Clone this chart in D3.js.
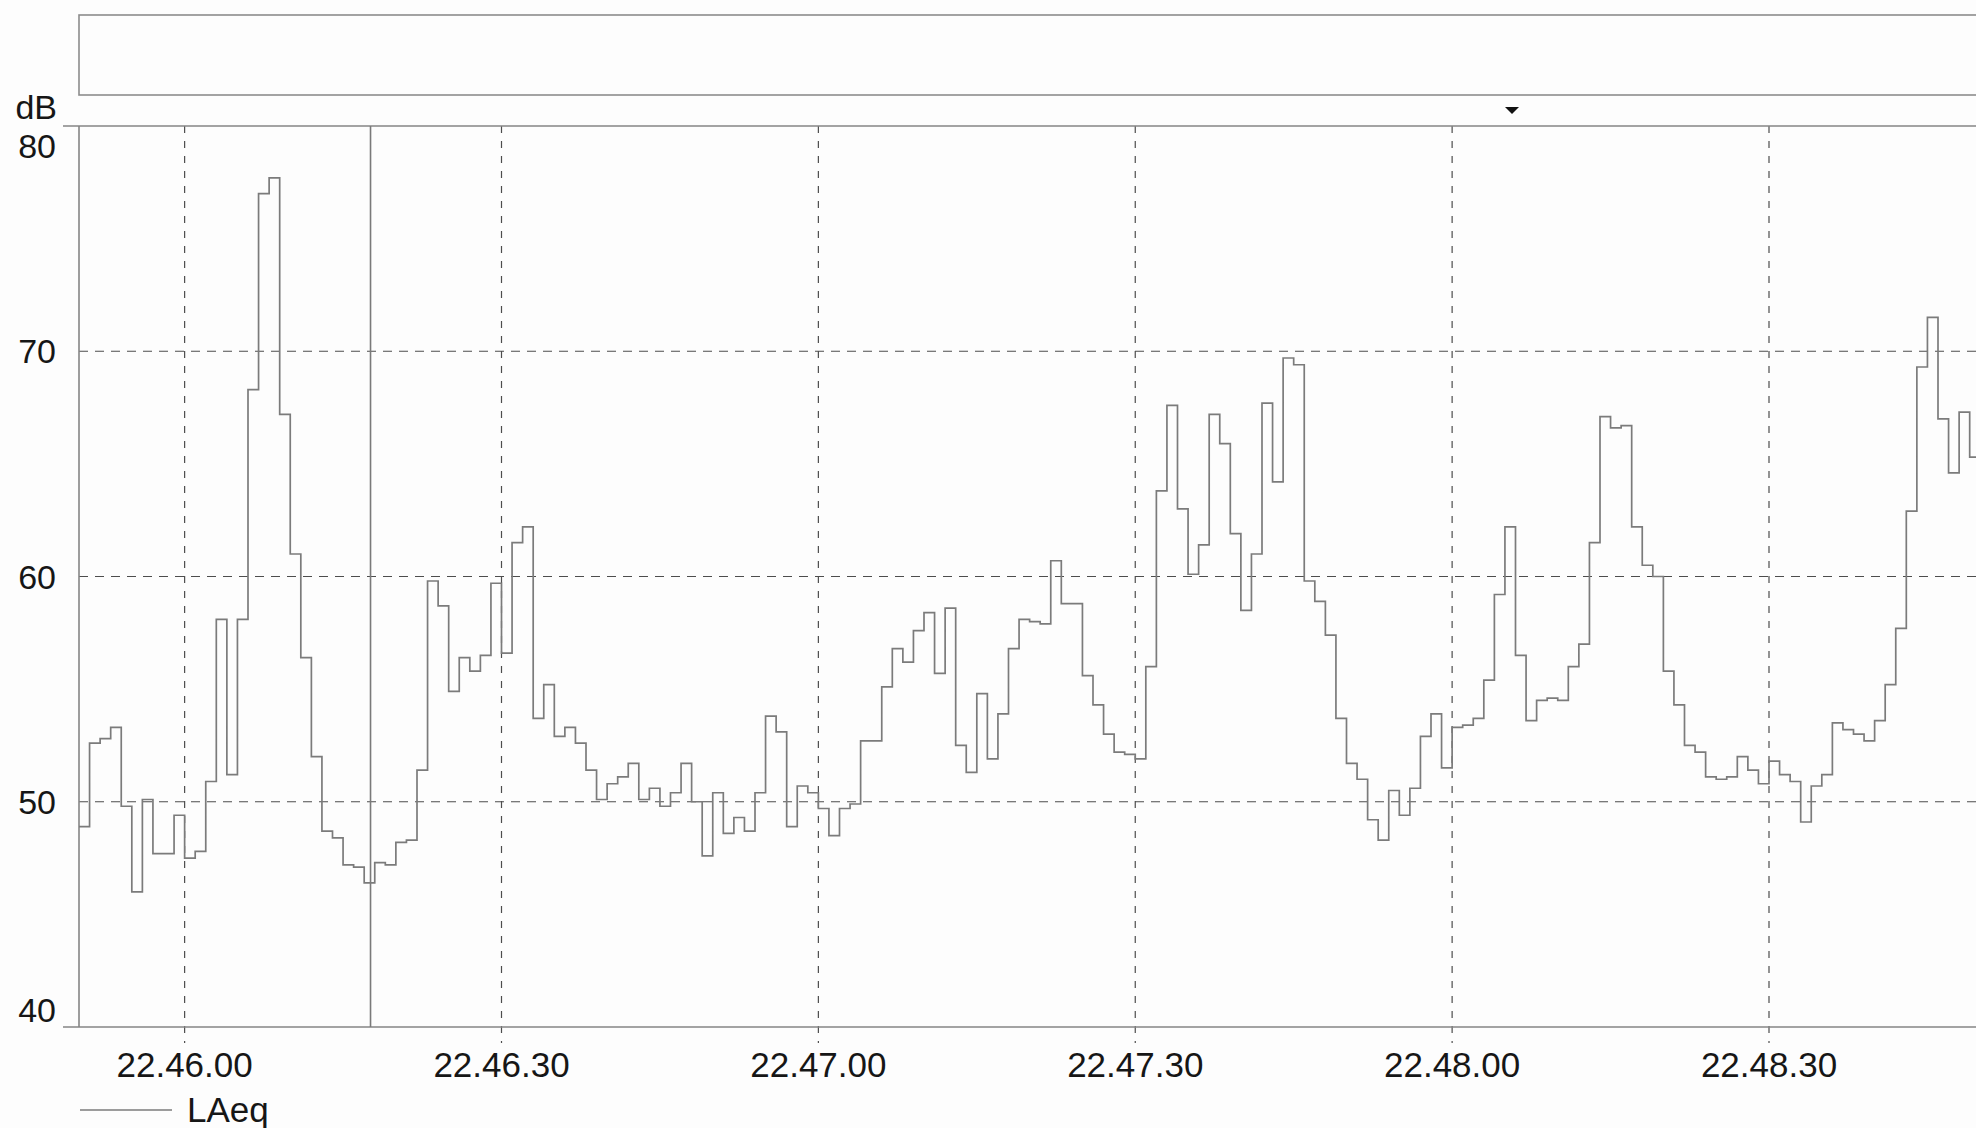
<!DOCTYPE html>
<html>
<head>
<meta charset="utf-8">
<script src="https://cdn.jsdelivr.net/npm/d3@7"></script>
<style>
  html, body { margin: 0; padding: 0; background: #fdfdfd; }
  svg { display: block; font-family: "Liberation Sans", Arial, sans-serif; }
</style>
</head>
<body>
<svg id="chart" width="1976" height="1128"></svg>
<script>
// LAeq, 1-second values starting at 22:45:50
const seriesName = "LAeq";
const startTime = "22:45:50";
const laeq = [
  48.9, 52.6, 52.8, 53.3, 49.8, 46.0, 50.1, 47.7, 47.7, 49.4,
  47.5, 47.8, 50.9, 58.1, 51.2, 58.1, 68.3, 77.0, 77.7, 67.2,
  61.0, 56.4, 52.0, 48.7, 48.4, 47.2, 47.1, 46.4, 47.3, 47.2,
  48.2, 48.3, 51.4, 59.8, 58.7, 54.9, 56.4, 55.8, 56.5, 59.7,
  56.6, 61.5, 62.2, 53.7, 55.2, 52.9, 53.3, 52.6, 51.4, 50.1,
  50.8, 51.1, 51.7, 50.1, 50.6, 49.8, 50.4, 51.7, 50.0, 47.6,
  50.4, 48.6, 49.3, 48.7, 50.4, 53.8, 53.1, 48.9, 50.7, 50.4,
  49.7, 48.5, 49.7, 49.9, 52.7, 52.7, 55.1, 56.8, 56.2, 57.6,
  58.4, 55.7, 58.6, 52.5, 51.3, 54.8, 51.9, 53.9, 56.8, 58.1,
  58.0, 57.9, 60.7, 58.8, 58.8, 55.6, 54.3, 53.0, 52.2, 52.1,
  51.9, 56.0, 63.8, 67.6, 63.0, 60.1, 61.4, 67.2, 65.9, 61.9,
  58.5, 61.0, 67.7, 64.2, 69.7, 69.4, 59.8, 58.9, 57.4, 53.7,
  51.7, 51.0, 49.2, 48.3, 50.5, 49.4, 50.6, 52.9, 53.9, 51.5,
  53.3, 53.4, 53.7, 55.4, 59.2, 62.2, 56.5, 53.6, 54.5, 54.6,
  54.5, 56.0, 57.0, 61.5, 67.1, 66.6, 66.7, 62.2, 60.5, 60.0,
  55.8, 54.3, 52.5, 52.2, 51.1, 51.0, 51.1, 52.0, 51.4, 50.8,
  51.8, 51.2, 50.9, 49.1, 50.7, 51.2, 53.5, 53.2, 53.0, 52.7,
  53.6, 55.2, 57.7, 62.9, 69.3, 71.5, 67.0, 64.6, 67.3, 65.3
];
const yTicks = [40, 50, 60, 70, 80];
const xTickTimes = ["22:46:00", "22:46:30", "22:47:00", "22:47:30", "22:48:00", "22:48:30"];
const cursorTime = "22:46:17.600";
const yUnit = "dB";

const W = 1976, H = 1128;
const plot = { left: 79, top: 126, bottom: 1027 };
const pxPerSecond = 10.5625;
const visibleSeconds = 182;

const parse = d3.timeParse("%H:%M:%S");
const parseMs = d3.timeParse("%H:%M:%S.%L");
const fmt = d3.timeFormat("%H.%M.%S");
const t0 = parse(startTime);

const points = laeq.map((v, i) => ({ t: d3.timeSecond.offset(t0, i), v }));
// close the last 1-second interval
points.push({ t: d3.timeSecond.offset(t0, laeq.length), v: laeq[laeq.length - 1] });

const x = d3.scaleTime()
  .domain([t0, d3.timeSecond.offset(t0, visibleSeconds)])
  .range([plot.left, plot.left + visibleSeconds * pxPerSecond]);
const y = d3.scaleLinear().domain([40, 80]).range([plot.bottom, plot.top]);

const svg = d3.select("#chart");
svg.append("rect").attr("width", W).attr("height", H).attr("fill", "#fdfdfd");

svg.append("defs").append("clipPath").attr("id", "plotClip")
  .append("rect")
  .attr("x", plot.left).attr("y", plot.top)
  .attr("width", W - plot.left).attr("height", plot.bottom - plot.top);

// header panel above the graph
svg.append("rect")
  .attr("x", plot.left).attr("y", 15)
  .attr("width", W - plot.left + 20).attr("height", 80)
  .attr("fill", "none").attr("stroke", "#8c8c8c").attr("stroke-width", 1.6);

// dropdown marker
svg.append("path")
  .attr("d", "M1505,107 L1519,107 L1512,114 Z")
  .attr("fill", "#111");

// horizontal grid
const gridColor = "#4d4d4d";
svg.append("g").selectAll("line")
  .data(yTicks.filter(v => v > 40 && v < 80))
  .join("line")
  .attr("x1", plot.left).attr("x2", W)
  .attr("y1", d => y(d)).attr("y2", d => y(d))
  .attr("stroke", gridColor).attr("stroke-width", 1.2)
  .attr("stroke-dasharray", "9,7");

// vertical grid, continued below the axis as tick marks
const xTicks = xTickTimes.map(parse);
svg.append("g").selectAll("line")
  .data(xTicks)
  .join("line")
  .attr("x1", d => x(d)).attr("x2", d => x(d))
  .attr("y1", plot.top).attr("y2", plot.bottom + 16)
  .attr("stroke", gridColor).attr("stroke-width", 1.2)
  .attr("stroke-dasharray", "7,8");

// frame
const frameColor = "#858585";
svg.append("line").attr("x1", 63).attr("x2", W).attr("y1", plot.top).attr("y2", plot.top)
  .attr("stroke", frameColor).attr("stroke-width", 1.6);
svg.append("line").attr("x1", 63).attr("x2", W).attr("y1", plot.bottom).attr("y2", plot.bottom)
  .attr("stroke", frameColor).attr("stroke-width", 1.6);
svg.append("line").attr("x1", plot.left).attr("x2", plot.left).attr("y1", plot.top).attr("y2", plot.bottom)
  .attr("stroke", frameColor).attr("stroke-width", 1.6);

// cursor
const cx = x(parseMs(cursorTime));
svg.append("line").attr("x1", cx).attr("x2", cx).attr("y1", plot.top).attr("y2", plot.bottom)
  .attr("stroke", "#7a7a7a").attr("stroke-width", 1.6);

// LAeq step trace
const line = d3.line()
  .x(d => x(d.t))
  .y(d => y(d.v))
  .curve(d3.curveStepAfter);
svg.append("path")
  .datum(points)
  .attr("clip-path", "url(#plotClip)")
  .attr("d", line)
  .attr("fill", "none")
  .attr("stroke", "#7b7b7b")
  .attr("stroke-width", 1.7);

// y labels (end labels kept inside the frame)
const textColor = "#161616";
svg.append("g").selectAll("text")
  .data(yTicks)
  .join("text")
  .attr("x", 56)
  .attr("y", d => Math.max(plot.top + 32, Math.min(plot.bottom - 5, y(d) + 12)))
  .attr("text-anchor", "end")
  .attr("font-size", 34)
  .attr("fill", textColor)
  .text(d => d);

svg.append("text")
  .attr("x", 57).attr("y", 119)
  .attr("text-anchor", "end")
  .attr("font-size", 34)
  .attr("fill", textColor)
  .text(yUnit);

// x labels
svg.append("g").selectAll("text")
  .data(xTicks)
  .join("text")
  .attr("x", d => x(d))
  .attr("y", 1077)
  .attr("text-anchor", "middle")
  .attr("font-size", 35)
  .attr("fill", textColor)
  .text(d => fmt(d));

// legend
svg.append("line").attr("x1", 80).attr("x2", 172).attr("y1", 1110).attr("y2", 1110)
  .attr("stroke", "#7b7b7b").attr("stroke-width", 1.7);
svg.append("text")
  .attr("x", 187).attr("y", 1122)
  .attr("font-size", 35)
  .attr("fill", textColor)
  .text(seriesName);
</script>
</body>
</html>
